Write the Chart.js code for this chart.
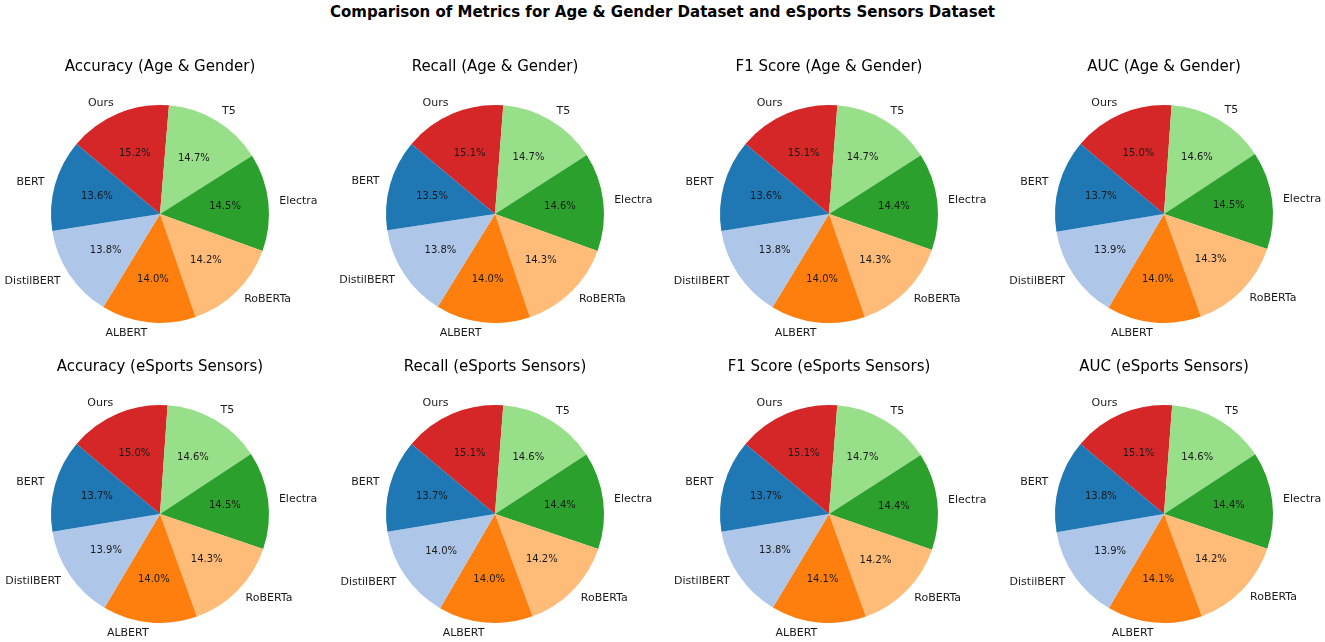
<!DOCTYPE html>
<html>
<head>
<meta charset="utf-8">
<script src="https://cdn.jsdelivr.net/npm/chart.js@4.4.0/dist/chart.umd.min.js"></script>
<style>
  body { margin: 0; background: #fff; overflow: hidden; }
  #fig { position: relative; width: 1325px; height: 642px; font-family: "DejaVu Sans", sans-serif; }
  #suptitle { position: absolute; top: 3px; left: 0; width: 1325px; text-align: center; font-weight: bold; font-size: 15px; color: #000; }
  canvas { position: absolute; }
</style>
</head>
<body>
<div id="fig">
  <div id="suptitle">Comparison of Metrics for Age &amp; Gender Dataset and eSports Sensors Dataset</div>
</div>
<script>
const models = ["BERT", "DistilBERT", "ALBERT", "RoBERTa", "Electra", "T5", "Ours"];
const colors = ["#1f77b4", "#aec7e8", "#ff7f0e", "#ffbb78", "#2ca02c", "#98df8a", "#d62728"];

// wedge shares (%) as printed on each pie
const accAge = [13.6, 13.8, 14.0, 14.2, 14.5, 14.7, 15.2];
const recallAge = [13.5, 13.8, 14.0, 14.3, 14.6, 14.7, 15.1];
const f1Age = [13.6, 13.8, 14.0, 14.3, 14.4, 14.7, 15.1];
const aucAge = [13.7, 13.9, 14.0, 14.3, 14.5, 14.6, 15.0];
const accSports = [13.7, 13.9, 14.0, 14.3, 14.5, 14.6, 15.0];
const recallSports = [13.7, 14.0, 14.0, 14.2, 14.4, 14.6, 15.1];
const f1Sports = [13.7, 13.8, 14.1, 14.2, 14.4, 14.7, 15.1];
const aucSports = [13.8, 13.9, 14.1, 14.2, 14.4, 14.6, 15.1];

const panels = [
  ["Accuracy (Age & Gender)", accAge],
  ["Recall (Age & Gender)", recallAge],
  ["F1 Score (Age & Gender)", f1Age],
  ["AUC (Age & Gender)", aucAge],
  ["Accuracy (eSports Sensors)", accSports],
  ["Recall (eSports Sensors)", recallSports],
  ["F1 Score (eSports Sensors)", f1Sports],
  ["AUC (eSports Sensors)", aucSports],
];

const colX = [160.2, 494.7, 828.7, 1163.8];
const rowY = [213.5, 513.5];
const R = 109;

// draws percentages, model names and the panel title
const pieText = {
  id: "pieText",
  afterDatasetsDraw(chart, args, opts) {
    const ctx = chart.ctx;
    const meta = chart.getDatasetMeta(0);
    const data = chart.data.datasets[0].data;
    const total = data.reduce((a, b) => a + b, 0);
    ctx.save();
    ctx.fillStyle = "#1a1a1a";
    ctx.textBaseline = "middle";
    meta.data.forEach((arc, i) => {
      const mid = (arc.startAngle + arc.endAngle) / 2;
      const r = arc.outerRadius;
      const c = Math.cos(mid), s = Math.sin(mid);
      ctx.font = "10px 'DejaVu Sans'";
      ctx.textAlign = "center";
      ctx.fillText((data[i] / total * 100).toFixed(1) + "%", arc.x + 0.6 * r * c, arc.y + 0.6 * r * s);
      ctx.font = "11px 'DejaVu Sans'";
      ctx.textAlign = c >= 0 ? "left" : "right";
      ctx.fillText(chart.data.labels[i], arc.x + 1.1 * r * c, arc.y + 1.1 * r * s);
    });
    ctx.fillStyle = "#000";
    ctx.font = "15px 'DejaVu Sans'";
    ctx.textAlign = "center";
    ctx.fillText(opts.title, meta.data[0].x, meta.data[0].y - 146.5);
    ctx.restore();
  }
};

const fig = document.getElementById("fig");
panels.forEach(([title, values], k) => {
  const cx = colX[k % 4], cy = rowY[Math.floor(k / 4)];
  const canvas = document.createElement("canvas");
  canvas.width = 330;
  canvas.height = 300;
  canvas.style.left = (cx - 165) + "px";
  canvas.style.top = (cy - 160) + "px";
  fig.appendChild(canvas);

  // matplotlib goes counter-clockwise from 140deg; Chart.js goes clockwise, so reverse
  new Chart(canvas.getContext("2d"), {
    type: "pie",
    data: {
      labels: models.slice().reverse(),
      datasets: [{
        data: values.slice().reverse(),
        backgroundColor: colors.slice().reverse(),
        borderWidth: 0,
      }],
    },
    options: {
      responsive: false,
      animation: false,
      rotation: -50,
      radius: R,
      layout: { padding: { left: 56, right: 56, top: 51, bottom: 31 } },
      plugins: {
        legend: { display: false },
        tooltip: { enabled: false },
        pieText: { title: title },
      },
    },
    plugins: [pieText],
  });
});
</script>
</body>
</html>
